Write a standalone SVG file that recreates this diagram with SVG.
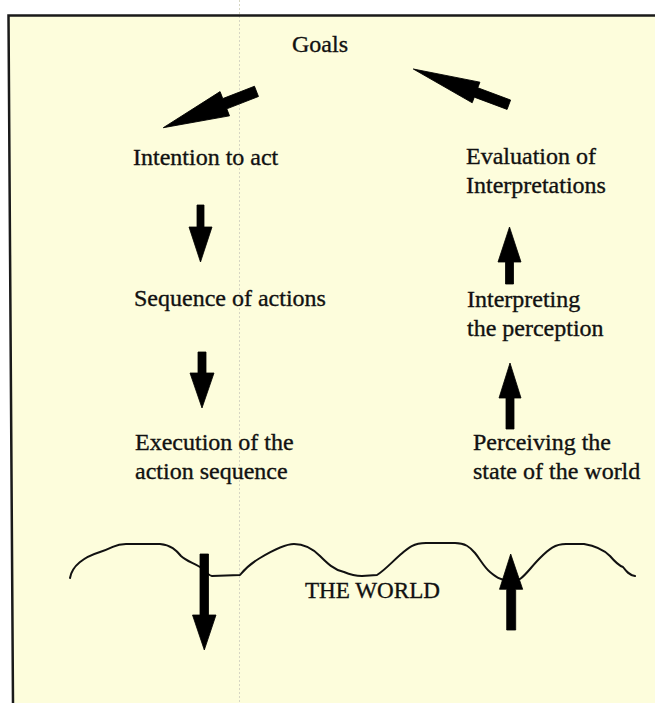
<svg xmlns="http://www.w3.org/2000/svg" width="655" height="703" viewBox="0 0 655 703">
  <defs>
    <style>
      .lbl { font-family: "Liberation Serif", "Times New Roman", serif; font-size: 24px; fill: #111; stroke: #111; stroke-width: 0.35; }
      .arr { fill: #000; stroke: #000; stroke-width: 0.8; stroke-linejoin: round; }
      .world { fill: none; stroke: #111; stroke-width: 2; stroke-linejoin: round; stroke-linecap: round; }
      .frame { fill: none; stroke: #1a1a1a; stroke-width: 2.5; }
    </style>
  </defs>
  <rect x="0" y="0" width="655" height="703" fill="#ffffff"/>
  <polygon points="8.5,15.5 655,15.5 655,703 13,703" fill="#fdfddc"/>
  <line x1="239.5" y1="0" x2="239.5" y2="703" stroke="#d6d6c4" stroke-width="1" stroke-dasharray="2 2"/>
  <polyline class="frame" points="655,15.5 8.5,15.5 13,703"/>

  <g id="goals"><text class="lbl" x="292" y="52">Goals</text></g>
  <g id="intention"><text class="lbl" x="133" y="165">Intention to act</text></g>
  <g id="evaluation">
    <text class="lbl" x="466" y="164">Evaluation of</text>
    <text class="lbl" x="466" y="193">Interpretations</text>
  </g>
  <g id="sequence"><text class="lbl" x="134" y="306">Sequence of actions</text></g>
  <g id="interpreting">
    <text class="lbl" x="467" y="307">Interpreting</text>
    <text class="lbl" x="467" y="336">the perception</text>
  </g>
  <g id="execution">
    <text class="lbl" x="135" y="450">Execution of the</text>
    <text class="lbl" x="135" y="479">action sequence</text>
  </g>
  <g id="perceiving">
    <text class="lbl" x="473" y="450">Perceiving the</text>
    <text class="lbl" x="473" y="479">state of the world</text>
  </g>
  <g id="world">
    <path class="world" d="M70,578 C72,566 84,557 100,552 S114,544 126,544 L160,544 C171,545 176,550 181,556 C186,561 194,563 200,567 C205,570 207,575 212,576 L240,575 C244,570 250,564 260,558 S284,544 294,544 C305,544 313,549 320,556 S334,570 344,572 C351,575 356,576 362,576 L377,575 C385,570 392,562 400,555 S413,543 426,543 L455,543 C465,543 470,547 475,553 S484,567 490,572 C496,577 500,580 507,580 L520,579 C526,575 531,567 540,558 S555,544 566,544 L584,544 C596,546 604,550 610,556 C616,563 620,566 623,567 C626,571 629,575 635,576"/>
    <text class="lbl" x="305" y="598" textLength="135" lengthAdjust="spacingAndGlyphs">THE WORLD</text>
  </g>

  <g id="connectors">
    <polygon class="arr" transform="translate(163.3,127.7) rotate(-21.3)" points="0,0 66,-13 66,-5.5 100,-5.5 100,5.5 66,5.5 66,13"/>
    <polygon class="arr" transform="translate(413.3,69) rotate(20.5)" points="0,0 67,-11 67,-5 102,-5 102,5 67,5 67,11"/>
    <polygon class="arr" points="197,205 204,205 204,227 212,227 200.5,262 189,227 197,227"/>
    <polygon class="arr" points="198,352 206,352 206,373 214,373 202,408 190,373 198,373"/>
    <polygon class="arr" points="200,554 208.5,554 208.5,615 216,615 204.3,650 192.5,615 200,615"/>
    <polygon class="arr" points="509.5,227 521,262 513.5,262 513.5,284 505.5,284 505.5,262 498,262"/>
    <polygon class="arr" points="510,363 521,398 514,398 514,429 506,429 506,398 499,398"/>
    <polygon class="arr" points="510.7,554 522.7,589.3 515.7,589.3 515.7,630 506.7,630 506.7,589.3 499.5,589.3"/>
  </g>
</svg>
